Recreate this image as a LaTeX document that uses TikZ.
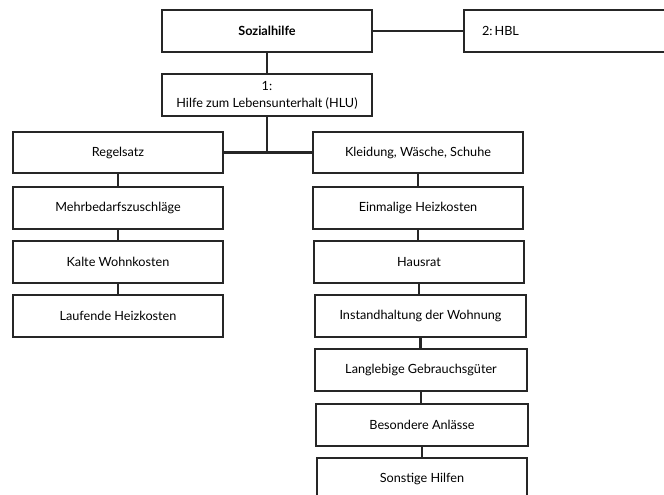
\documentclass[tikz,border=0pt]{standalone}
\usepackage{fontspec}
\setmainfont{Lato}
\begin{document}
\begin{tikzpicture}[x=0.75pt,y=-0.75pt,
  box/.style={draw=black!85,line width=1.3pt,fill=white,minimum width=157.5pt,minimum height=31pt,inner sep=0pt,align=center,font=\fontsize{9.5}{12.75}\selectfont},
  conn/.style={draw=black!85,line width=1.6pt}]
\useasboundingbox (0,0) rectangle (664,494);
\clip (0,0) rectangle (664,494);
\node[box,font=\fontsize{9.5}{12.75}\selectfont\bfseries] (soz) at (267,31) {Sozialhilfe};
\node[box,minimum width=180pt,minimum height=31.5pt,text width=153pt,align=left] (hbl) at (584,31) {2:\,HBL};
\node[box,minimum height=31.5pt] (hlu) at (267,95) {1:\\Hilfe zum Lebensunterhalt (HLU)};
% left column
\node[box,minimum width=158pt] (l1) at (118,152.5) {Regelsatz};
\node[box,minimum width=158pt] (l2) at (118,208) {Mehrbedarfszuschläge};
\node[box,minimum width=158pt] (l3) at (118,262) {Kalte Wohnkosten};
\node[box,minimum width=158pt] (l4) at (118,316) {Laufende Heizkosten};
% right column
\node[box] (r1) at (418,152.5) {Kleidung, Wäsche, Schuhe};
\node[box] (r2) at (418,208) {Einmalige Heizkosten};
\node[box] (r3) at (419,262) {Hausrat};
\node[box,minimum width=158pt] (r4) at (420.5,316) {Instandhaltung der Wohnung};
\node[box,minimum width=159pt] (r5) at (421,370) {Langlebige Gebrauchsgüter};
\node[box,minimum width=159pt] (r6) at (422,425) {Besondere Anlässe};
\node[box,minimum width=158pt,minimum height=31.5pt] (r7) at (422,479) {Sonstige Hilfen};
% connectors
\draw[conn] (soz.east) -- (soz.east -| hbl.west);
\draw[conn] (soz.south) -- (hlu.north);
\draw[conn] (l1.east) -- (r1.west);
\coordinate (bus) at (hlu.south |- l1.east);
\draw[conn] (hlu.south) -- (bus);
\foreach \a/\b in {l1/l2,l2/l3,l3/l4,r1/r2,r2/r3,r3/r4,r4/r5,r5/r6,r6/r7}
  \draw[conn] (\a.south) -- (\a.south |- \b.north);
\end{tikzpicture}
\end{document}
